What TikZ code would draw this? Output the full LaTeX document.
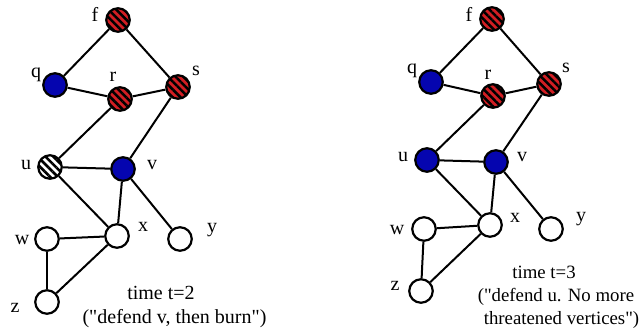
\documentclass[tikz,border=0pt]{standalone}
\usepackage{fontspec}
\setmainfont{Liberation Serif}[Ligatures=TeXOff]
\usetikzlibrary{patterns.meta}
\definecolor{burnred}{RGB}{210,30,35}
\definecolor{defblue}{RGB}{5,5,175}
\tikzset{
  vtx/.style={circle,draw=black,line width=2.2pt,minimum size=23.5pt,inner sep=0pt,fill=white},
  burnt/.style={vtx,fill=burnred,postaction={pattern={Lines[angle=-45,distance=5.5pt,line width=2.5pt]},pattern color=black}},
  threat/.style={vtx,fill=white,postaction={pattern={Lines[angle=-45,distance=5.5pt,line width=2.5pt]},pattern color=black}},
  defended/.style={vtx,fill=defblue},
  edge/.style={line width=2pt,black},
  lbl/.style={anchor=base,inner sep=0pt,font=\fontsize{20}{22}\selectfont},
  captext/.style={anchor=base,inner sep=0pt,font=\fontsize{20}{23}\selectfont},
  captextr/.style={anchor=base,inner sep=0pt,font=\fontsize{18.8}{23}\selectfont}
}
\begin{document}
\begin{tikzpicture}[x=1pt,y=-1pt]
\useasboundingbox (0,0) rectangle (641,329);
% ---------- left graph (t=2) ----------
\node[burnt]    (Lf) at (118,20) {};
\node[defended] (Lq) at (55,85) {};
\node[burnt]    (Lr) at (120,99) {};
\node[burnt]    (Ls) at (178,87) {};
\node[threat]   (Lu) at (50,167) {};
\node[defended] (Lv) at (123,169) {};
\node[vtx]      (Lx) at (117,236) {};
\node[vtx]      (Ly) at (180,239) {};
\node[vtx]      (Lw) at (47,239) {};
\node[vtx]      (Lz) at (47,302) {};
\draw[edge] (Lf) -- (Lq);
\draw[edge] (Lf) -- (Ls);
\draw[edge] (Lq) -- (Lr);
\draw[edge] (Lr) -- (Ls);
\draw[edge] (Lr) -- (Lu);
\draw[edge] (Ls) -- (Lv);
\draw[edge] (Lu) -- (Lv);
\draw[edge] (Lu) -- (Lx);
\draw[edge] (Lv) -- (Lx);
\draw[edge] (Lv) -- (Ly);
\draw[edge] (Lw) -- (Lx);
\draw[edge] (Lw) -- (Lz);
\draw[edge] (Lz) -- (Lx);
\node[lbl] (Llf) at (95,22) {f};
\node[lbl] (Llq) at (36,78) {q};
\node[lbl] (Llr) at (113,81.5) {r};
\node[lbl] (Lls) at (196,75.5) {s};
\node[lbl] (Llu) at (26,169.5) {u};
\node[lbl] (Llv) at (152,169.5) {v};
\node[lbl] (Llx) at (143,231.5) {x};
\node[lbl] (Lly) at (212,233) {y};
\node[lbl] (Llw) at (22,244.5) {w};
\node[lbl] (Llz) at (15,312) {z};
\node[captext] (Lc1) at (161,299) {time t=2};
\node[captext] (Lc2) at (174.5,323) {("defend v, then burn")};
% ---------- right graph (t=3) ----------
\node[burnt]    (Rf) at (492,19) {};
\node[defended] (Rq) at (431,82) {};
\node[burnt]    (Rr) at (493,96) {};
\node[burnt]    (Rs) at (549,84) {};
\node[defended] (Ru) at (427,160) {};
\node[defended] (Rv) at (496,162) {};
\node[vtx]      (Rx) at (490,225) {};
\node[vtx]      (Ry) at (551,229) {};
\node[vtx]      (Rw) at (424,229) {};
\node[vtx]      (Rz) at (421,291) {};
\draw[edge] (Rf) -- (Rq);
\draw[edge] (Rf) -- (Rs);
\draw[edge] (Rq) -- (Rr);
\draw[edge] (Rr) -- (Rs);
\draw[edge] (Rr) -- (Ru);
\draw[edge] (Rs) -- (Rv);
\draw[edge] (Ru) -- (Rv);
\draw[edge] (Ru) -- (Rx);
\draw[edge] (Rv) -- (Rx);
\draw[edge] (Rv) -- (Ry);
\draw[edge] (Rw) -- (Rx);
\draw[edge] (Rw) -- (Rz);
\draw[edge] (Rz) -- (Rx);
\node[lbl] (Rlf) at (469,22) {f};
\node[lbl] (Rlq) at (412,74) {q};
\node[lbl] (Rlr) at (488,79.5) {r};
\node[lbl] (Rls) at (566,72.5) {s};
\node[lbl] (Rlu) at (403,161.5) {u};
\node[lbl] (Rlv) at (522,161.5) {v};
\node[lbl] (Rlx) at (515,222.5) {x};
\node[lbl] (Rly) at (581,222) {y};
\node[lbl] (Rlw) at (397,234.5) {w};
\node[lbl] (Rlz) at (395,290.5) {z};
\node[captextr] (Rc1) at (544,278) {time t=3};
\node[captextr] (Rc2) at (556,301) {("defend u. No more};
\node[captextr] (Rc3) at (561.5,324) {threatened vertices")};
\end{tikzpicture}
\end{document}
